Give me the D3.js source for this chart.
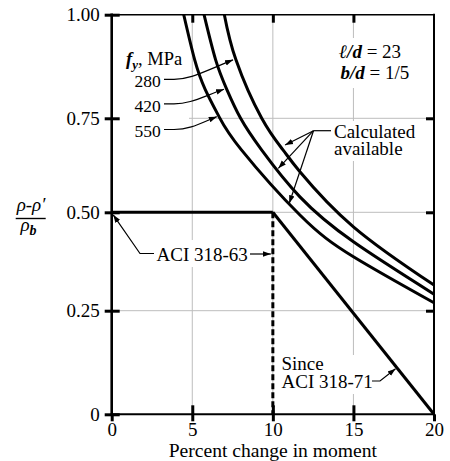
<!DOCTYPE html>
<html><head><meta charset="utf-8">
<script src="https://cdn.jsdelivr.net/npm/d3@7"></script>
<style>
html,body{margin:0;padding:0;background:#fff;}
svg{display:block;}
</style></head><body>
<svg id="chart" width="450" height="461" font-family='"Liberation Serif"'></svg>
<script>
// ---------- data ----------
const xTicks = [0, 5, 10, 15, 20];
const yTicks = [0, 0.25, 0.5, 0.75, 1];
const yTickLabels = ["0", "0.25", "0.50", "0.75", "1.00"];
const fyLabels = ["280", "420", "550"];

const curve280X = [6.99, 7.71, 9.31, 10.63, 11.68, 15, 20];
const curve280Y = [1.0, 0.891, 0.75, 0.666, 0.608, 0.463, 0.315];
const curve420X = [5.73, 6.45, 7.14, 8.0, 9.3, 11.68, 15, 20];
const curve420Y = [1.0, 0.891, 0.82, 0.75, 0.666, 0.541, 0.425, 0.292];
const curve550X = [4.47, 5.15, 5.8, 6.66, 8.05, 11.68, 15, 20];
const curve550Y = [1.0, 0.891, 0.82, 0.754, 0.666, 0.493, 0.387, 0.27];

const aci63X = [0, 10];
const aci63Y = [0.5, 0.5];
const aci63DashX = [10, 10];
const aci63DashY = [0.5, 0];
const aci71X = [10, 20];
const aci71Y = [0.5, 0];

// ---------- setup ----------
const FONT = '"Liberation Serif"';
const svg = d3.select("#chart");
const x = d3.scaleLinear().domain([0, 20]).range([111.7, 434]);
const y = d3.scaleLinear().domain([0, 0.25, 0.5, 0.75, 1]).range([414.3, 310.7, 212.3, 118.3, 14.7]);

const defs = svg.append("defs");
defs.append("marker").attr("id", "arr")
  .attr("viewBox", "-8 -4 9 8").attr("refX", 0).attr("refY", 0)
  .attr("markerWidth", 9).attr("markerHeight", 8)
  .attr("markerUnits", "userSpaceOnUse").attr("orient", "auto")
  .append("path").attr("d", "M0,0 L-8,-2.8 L-8,2.8 Z").attr("fill", "#000");

// gridlines
const grid = svg.append("g").attr("stroke", "#bdbdbd").attr("stroke-width", 1);
[5, 10, 15].forEach(v => {
  grid.append("line").attr("x1", x(v)).attr("x2", x(v)).attr("y1", y(1)).attr("y2", y(0));
});
[0.25, 0.5, 0.75].forEach(v => {
  grid.append("line").attr("x1", x(0)).attr("x2", x(20)).attr("y1", y(v)).attr("y2", y(v));
});

// white boxes behind annotations
const boxes = [
  [119, 45, 70, 95],
  [335, 38, 78, 50],
  [329, 121, 92, 40],
  [150, 240, 101, 27],
  [278, 355, 98, 39]
];
svg.append("g").selectAll("rect").data(boxes).join("rect")
  .attr("x", d => d[0]).attr("y", d => d[1]).attr("width", d => d[2]).attr("height", d => d[3])
  .attr("fill", "#fff");

// curves
const line = d3.line().x(d => x(d[0])).y(d => y(d[1])).curve(d3.curveNatural);
const series = [
  d3.zip(curve280X, curve280Y),
  d3.zip(curve420X, curve420Y),
  d3.zip(curve550X, curve550Y)
];
svg.append("g").selectAll("path").data(series).join("path")
  .attr("d", line).attr("fill", "none").attr("stroke", "#000").attr("stroke-width", 3);

const lin = d3.line().x(d => x(d[0])).y(d => y(d[1]));
svg.append("path").attr("d", lin(d3.zip(aci63X, aci63Y)))
  .attr("fill", "none").attr("stroke", "#000").attr("stroke-width", 3);
svg.append("path").attr("d", lin(d3.zip(aci71X, aci71Y)))
  .attr("fill", "none").attr("stroke", "#000").attr("stroke-width", 3);
svg.append("path").attr("d", lin(d3.zip(aci63DashX, aci63DashY)))
  .attr("fill", "none").attr("stroke", "#000").attr("stroke-width", 3).attr("stroke-dasharray", "6,3");

// axes
const axG = svg.append("g");
const yAxisOut = d3.axisLeft(y).tickValues(yTicks).tickSize(7).tickPadding(5)
  .tickFormat((d, i) => yTickLabels[i]);
axG.append("g").attr("transform", `translate(${x(0)},0)`).call(yAxisOut)
  .call(g => g.select(".domain").remove());
axG.append("g").attr("transform", `translate(${x(0)},0)`)
  .call(d3.axisLeft(y).tickValues(yTicks).tickSize(-8).tickFormat(""))
  .call(g => g.select(".domain").remove());
axG.append("g").attr("transform", `translate(${x(20)},0)`)
  .call(d3.axisRight(y).tickValues([0.25, 0.5, 0.75]).tickSize(-8).tickFormat(""))
  .call(g => g.select(".domain").remove());
const xAxisOut = d3.axisBottom(x).tickValues(xTicks).tickSize(7).tickPadding(1.5).tickFormat(d3.format("d"));
axG.append("g").attr("transform", `translate(0,${y(0)})`).call(xAxisOut)
  .call(g => g.select(".domain").remove());
axG.append("g").attr("transform", `translate(0,${y(0)})`)
  .call(d3.axisBottom(x).tickValues([5, 10, 15]).tickSize(-9).tickFormat(""))
  .call(g => g.select(".domain").remove());
axG.append("g").attr("transform", `translate(0,${y(1)})`)
  .call(d3.axisTop(x).tickValues([5, 10, 15]).tickSize(-8).tickFormat(""))
  .call(g => g.select(".domain").remove());
axG.selectAll("g").attr("font-family", FONT);
axG.selectAll(".tick line").attr("stroke", "#000").attr("stroke-width", 3);
axG.selectAll(".tick text").attr("font-family", FONT).attr("font-size", 19).attr("fill", "#000");

// frame
const frame = svg.append("g").attr("stroke", "#000").attr("stroke-linecap", "square");
frame.append("line").attr("x1", x(0)).attr("x2", x(0)).attr("y1", y(1)).attr("y2", y(0)).attr("stroke-width", 2.6);
frame.append("line").attr("x1", x(0)).attr("x2", x(20)).attr("y1", y(0)).attr("y2", y(0)).attr("stroke-width", 2);
frame.append("line").attr("x1", x(0)).attr("x2", x(20)).attr("y1", y(1)).attr("y2", y(1)).attr("stroke-width", 1.6);
frame.append("line").attr("x1", x(20)).attr("x2", x(20)).attr("y1", y(1)).attr("y2", y(0)).attr("stroke-width", 2);

// leaders
const lead = svg.append("g").attr("fill", "none").attr("stroke", "#000").attr("stroke-width", 1.2);
const fyTips = [[7.53, 0.891], [6.97, 0.82], [6.52, 0.754]];
const fyLeadY = [79.3, 103.8, 129.5];
fyTips.forEach((t, i) => {
  const tx = x(t[0]), ty = y(t[1]);
  lead.append("path")
    .attr("d", `M164,${fyLeadY[i]} H174 C ${190},${fyLeadY[i]} ${200},${fyLeadY[i] - 6} ${tx},${ty}`)
    .attr("marker-end", "url(#arr)");
});
const calcTips = [[10.76, 0.679], [10.34, 0.617], [11.02, 0.524]];
lead.append("path").attr("d", "M331,130.7 H313.5");
calcTips.forEach(t => {
  lead.append("path").attr("d", `M313.5,130.7 L${x(t[0])},${y(t[1])}`).attr("marker-end", "url(#arr)");
});
lead.append("path").attr("d", `M154,253.5 H140 L${x(0) + 1.5},${y(0.5) + 2.5}`).attr("marker-end", "url(#arr)");
lead.append("path").attr("d", `M250,254 H${x(10) - 2}`).attr("marker-end", "url(#arr)");
lead.append("path").attr("d", `M372,381 H380 L${x(17.8) - 3},${y(0.11)}`).attr("marker-end", "url(#arr)");

// texts
const T = svg.append("g").attr("fill", "#000").attr("font-size", 19).attr("font-family", FONT);
const fy = T.append("text").attr("x", 126).attr("y", 65).attr("font-size", 18.5);
fy.append("tspan").attr("font-weight", "bold").attr("font-style", "italic").text("f");
fy.append("tspan").attr("font-weight", "bold").attr("font-style", "italic").attr("font-size", 13).attr("dy", 4).text("y");
fy.append("tspan").attr("dy", -4).text(", MPa");
const fyBase = [86.5, 111.5, 136.5];
fyLabels.forEach((s, i) => T.append("text").attr("x", 134.5).attr("y", fyBase[i]).attr("font-size", 17.5).text(s));

const ld = T.append("text").attr("x", 339).attr("y", 57.5);
ld.append("tspan").attr("font-weight", "bold").attr("font-style", "italic").text("ℓ/d");
ld.append("tspan").text(" = 23");
const bd = T.append("text").attr("x", 340.5).attr("y", 79);
bd.append("tspan").attr("font-weight", "bold").attr("font-style", "italic").text("b/d");
bd.append("tspan").text(" = 1/5");

T.append("text").attr("x", 334).attr("y", 137.5).text("Calculated");
T.append("text").attr("x", 334).attr("y", 155).text("available");
T.append("text").attr("x", 156.5).attr("y", 260.5).text("ACI 318-63");
T.append("text").attr("x", 281.5).attr("y", 370).text("Since");
T.append("text").attr("x", 281.5).attr("y", 388).text("ACI 318-71");

T.append("text").attr("x", (x(0) + x(20)) / 2).attr("y", 456.5).attr("text-anchor", "middle")
  .attr("font-size", 19.6).text("Percent change in moment");

// y-axis label as a fraction
const yl = svg.append("g").attr("fill", "#000").attr("font-size", 19).attr("font-style", "italic").attr("font-family", FONT);
yl.append("text").attr("x", 31).attr("y", 211).attr("text-anchor", "middle").text("ρ-ρ′");
yl.append("line").attr("x1", 15.7).attr("x2", 45.7).attr("y1", 218.5).attr("y2", 218.5)
  .attr("stroke", "#000").attr("stroke-width", 1.4);
const den = yl.append("text").attr("x", 28.5).attr("y", 231).attr("text-anchor", "middle");
den.append("tspan").text("ρ");
den.append("tspan").attr("font-weight", "bold").attr("font-size", 14).attr("dy", 4).text("b");
</script>
</body></html>
